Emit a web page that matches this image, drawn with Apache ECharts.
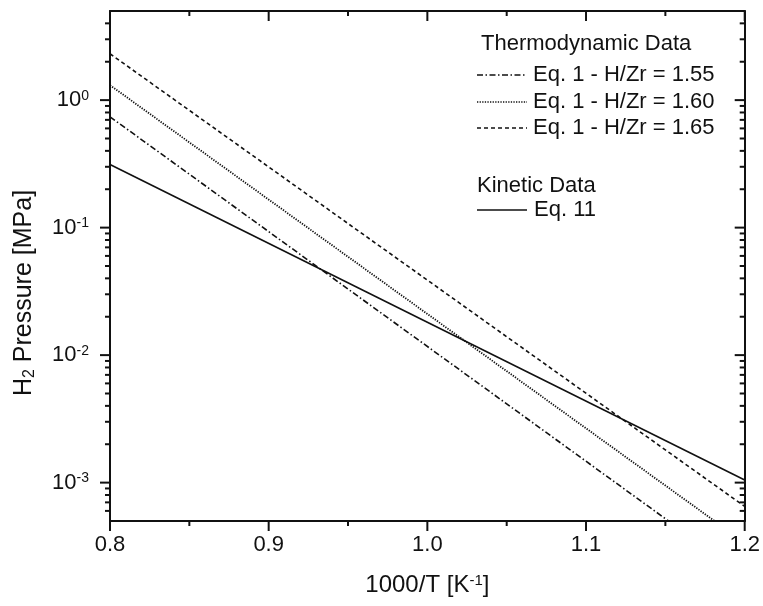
<!DOCTYPE html>
<html>
<head>
<meta charset="utf-8">
<script src="https://cdn.jsdelivr.net/npm/echarts@6/dist/echarts.min.js"></script>
<style>html,body{margin:0;padding:0;background:#fff;}#c{width:763px;height:606px;}</style>
</head>
<body>
<div id="c"></div>
<script>
// ---- data ----
const xRange = [0.8, 1.2];
const yRange = [5e-4, 5];
const xMajorTicks = [0.8, 0.9, 1.0, 1.1, 1.2];
const xMinorTicks = [0.85, 0.95, 1.05, 1.15];
const yMajorTicks = [1e-3, 1e-2, 1e-1, 1];
const yMinorTicks = [6e-4, 7e-4, 8e-4, 9e-4,
  2e-3, 3e-3, 4e-3, 5e-3, 6e-3, 7e-3, 8e-3, 9e-3,
  2e-2, 3e-2, 4e-2, 5e-2, 6e-2, 7e-2, 8e-2, 9e-2,
  2e-1, 3e-1, 4e-1, 5e-1, 6e-1, 7e-1, 8e-1, 9e-1,
  2, 3, 4];
// Eq. 1 lines (thermodynamic) and Eq. 11 (kinetic): [1000/T, P (MPa)]
const eq1_155_x = [0.8, 1.152];
const eq1_155_y = [0.74, 5.0e-4];
const eq1_160_x = [0.8, 1.181];
const eq1_160_y = [1.31, 5.0e-4];
const eq1_165_x = [0.8, 1.2];
const eq1_165_y = [2.31, 6.5e-4];
const eq11_x = [0.8, 1.2];
const eq11_y = [0.313, 1.05e-3];
const seriesNames = ['Eq. 1 - H/Zr = 1.55', 'Eq. 1 - H/Zr = 1.60', 'Eq. 1 - H/Zr = 1.65', 'Eq. 11'];

const FONT = "'Liberation Sans', Arial, sans-serif";
const INK = '#111';
const dashes = [[6, 2.5, 1.5, 2.5], [1.3, 1.3], [4, 3], null];
const widths = [1.6, 1.8, 1.6, 1.6];

function pairs(xs, ys) { return xs.map((x, i) => [x, ys[i]]); }

const chart = echarts.init(document.getElementById('c'), null, {renderer: 'canvas'});

function lineSeries(name, xs, ys, dash, w) {
  return {
    name: name, type: 'line', xAxisIndex: 0, yAxisIndex: 0,
    data: pairs(xs, ys), symbol: 'none', silent: true,
    lineStyle: {color: INK, width: w, type: dash || 'solid'},
    z: 3
  };
}

const yTickData = yMajorTicks.map(v => [xRange[0], v, 1]).concat(yMinorTicks.map(v => [xRange[0], v, 0]));
const xTickData = xMajorTicks.map(v => [v, yRange[0], 1]).concat(xMinorTicks.map(v => [v, yRange[0], 0]));

const option = {
  animation: false,
  backgroundColor: '#fff',
  grid: {left: 110, right: 16, top: 11, bottom: 81, containLabel: false},
  xAxis: [{
    type: 'value', min: xRange[0], max: xRange[1], interval: 0.1, position: 'bottom',
    axisLine: {lineStyle: {color: INK, width: 2}},
    axisTick: {show: false}, splitLine: {show: false},
    axisLabel: {margin: 13, color: INK, fontSize: 22, fontFamily: FONT, formatter: v => v.toFixed(1)},
    name: '1000/T [K{s|-1}]', nameLocation: 'middle', nameGap: 52,
    nameTextStyle: {color: INK, fontSize: 24, fontFamily: FONT,
      rich: {s: {fontSize: 15, fontFamily: FONT, color: INK, verticalAlign: 'top', lineHeight: 15, padding: [0, 0, 13, 0]}}}
  }, {
    type: 'value', min: xRange[0], max: xRange[1], interval: 0.1, position: 'top',
    axisLine: {lineStyle: {color: INK, width: 2}},
    axisTick: {show: false}, splitLine: {show: false}, axisLabel: {show: false}
  }],
  yAxis: [{
    type: 'log', min: yRange[0], max: yRange[1], logBase: 10, position: 'left',
    axisLine: {lineStyle: {color: INK, width: 2}},
    axisTick: {show: false}, splitLine: {show: false}, minorTick: {show: false},
    axisLabel: {
      margin: 21, color: INK, fontFamily: FONT,
      formatter: function (v) {
        const l = Math.log10(v), e = Math.round(l);
        if (Math.abs(l - e) > 1e-6) return '';
        return '{b|10}{s|' + e + '}';
      },
      rich: {
        b: {fontSize: 22, fontFamily: FONT, color: INK, lineHeight: 22, verticalAlign: 'bottom'},
        s: {fontSize: 14, fontFamily: FONT, color: INK, lineHeight: 14, verticalAlign: 'top', padding: [0, 0, 12, 0]}
      }
    }
  }, {
    type: 'log', min: yRange[0], max: yRange[1], logBase: 10, position: 'right',
    axisLine: {lineStyle: {color: INK, width: 2}},
    axisTick: {show: false}, splitLine: {show: false}, axisLabel: {show: false}
  }],
  series: [
    lineSeries(seriesNames[0], eq1_155_x, eq1_155_y, dashes[0], widths[0]),
    lineSeries(seriesNames[1], eq1_160_x, eq1_160_y, dashes[1], widths[1]),
    lineSeries(seriesNames[2], eq1_165_x, eq1_165_y, dashes[2], widths[2]),
    lineSeries(seriesNames[3], eq11_x, eq11_y, null, widths[3]),
    {
      type: 'custom', xAxisIndex: 0, yAxisIndex: 0, clip: false, silent: true, z: 5,
      data: yTickData,
      renderItem: function (params, api) {
        const v = api.value(1), major = api.value(2) === 1;
        const pL = api.coord([xRange[0], v]);
        const pR = api.coord([xRange[1], v]);
        const len = major ? 10 : 5;
        const st = {stroke: INK, lineWidth: 2};
        return {type: 'group', children: [
          {type: 'line', shape: {x1: pL[0] - len, y1: pL[1], x2: pL[0], y2: pL[1]}, style: st},
          {type: 'line', shape: {x1: pR[0] - len, y1: pR[1], x2: pR[0], y2: pR[1]}, style: st}
        ]};
      }
    },
    {
      type: 'custom', xAxisIndex: 0, yAxisIndex: 0, clip: false, silent: true, z: 5,
      data: xTickData,
      renderItem: function (params, api) {
        const v = api.value(0), major = api.value(2) === 1;
        const pB = api.coord([v, yRange[0]]);
        const pT = api.coord([v, yRange[1]]);
        const len = major ? 10 : 5;
        const st = {stroke: INK, lineWidth: 2};
        return {type: 'group', children: [
          {type: 'line', shape: {x1: pB[0], y1: pB[1], x2: pB[0], y2: pB[1] + len}, style: st},
          {type: 'line', shape: {x1: pT[0], y1: pT[1], x2: pT[0], y2: pT[1] + len}, style: st}
        ]};
      }
    }
  ],
  graphic: []
};

// legend and y-axis title
const g = [];
function txt(x, y, text) {
  return {type: 'text', x: x, y: y, silent: true, z: 10,
    style: {text: text, fill: INK, font: '22px ' + FONT, textAlign: 'left', textVerticalAlign: 'middle'}};
}
function sample(y, dash, w) {
  return {type: 'line', silent: true, z: 10, shape: {x1: 477, y1: y, x2: 527, y2: y},
    style: {stroke: INK, lineWidth: w, lineDash: dash || null}};
}
g.push(txt(481, 44, 'Thermodynamic Data'));
const rowsY = [75, 102, 128];
for (let i = 0; i < 3; i++) {
  g.push(sample(rowsY[i], dashes[i], widths[i] - 0.3));
  g.push(txt(533, rowsY[i], seriesNames[i]));
}
g.push(txt(477, 186, 'Kinetic Data'));
g.push(sample(210, null, 1.3));
g.push(txt(534, 210, seriesNames[3]));
g.push({
  type: 'text', x: 25, y: 293, rotation: Math.PI / 2, silent: true, z: 10,
  style: {
    text: '{n|H}{sub|2}{n| Pressure [MPa]}', textAlign: 'center', textVerticalAlign: 'middle', fill: INK,
    rich: {
      n: {fontSize: 25, fontFamily: FONT, color: INK, lineHeight: 26, verticalAlign: 'top'},
      sub: {fontSize: 16, fontFamily: FONT, color: INK, lineHeight: 16, verticalAlign: 'bottom', padding: [13, 0, 0, 0]}
    }
  }
});
option.graphic = g;

chart.setOption(option);
</script>
</body>
</html>
